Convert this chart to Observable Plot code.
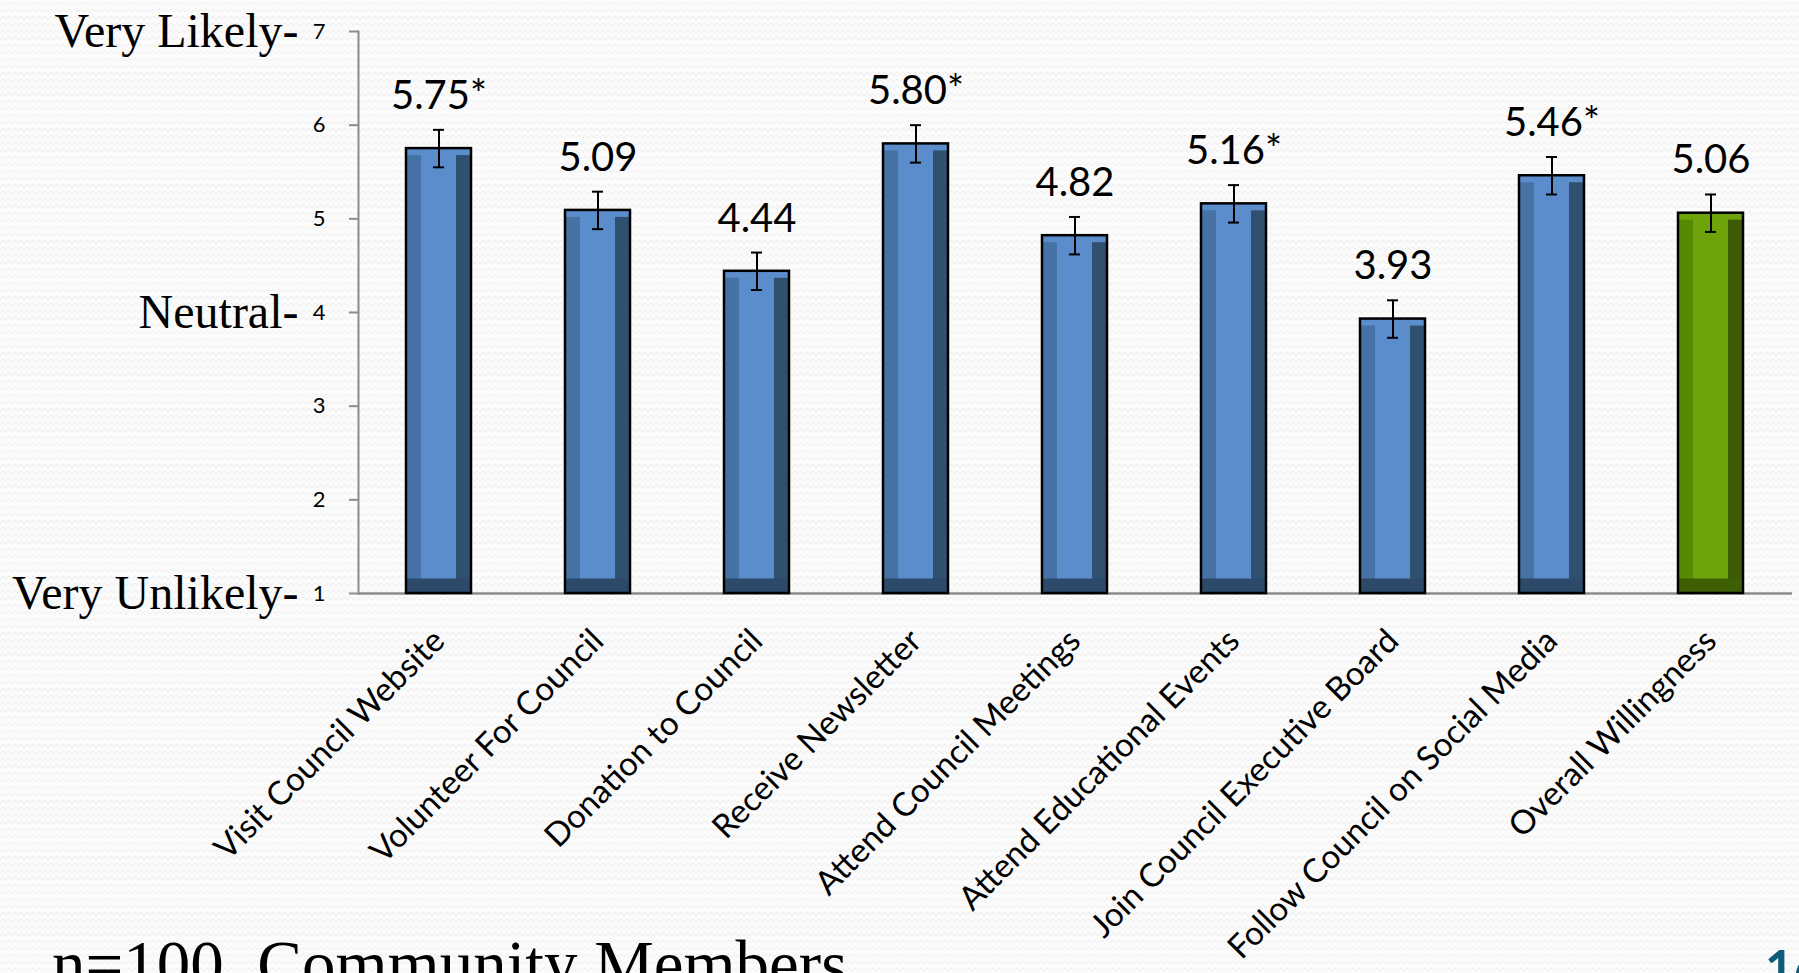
<!DOCTYPE html>
<html>
<head>
<meta charset="utf-8">
<script src="https://cdn.jsdelivr.net/npm/d3@7"></script>
<script src="https://cdn.jsdelivr.net/npm/@observablehq/plot@0.6"></script>
<style>
  html, body { margin: 0; padding: 0; width: 1799px; height: 973px; overflow: hidden; }
  body {
    position: relative;
    background-color: #fbfbfb;
    background-image: url("data:image/svg+xml;utf8,<svg xmlns='http://www.w3.org/2000/svg' width='12' height='7'><path d='M0 5 L3 2 L6 5 L9 2 L12 5' fill='none' stroke='%23eeeeee' stroke-width='1'/></svg>");
  }
  #chart { position: absolute; left: 0; top: 0; }
  #chart g[aria-label="y-axis tick"] { stroke: #8c8c8c; }
  #chart g[aria-label="y-axis tick"] path { stroke: #8c8c8c; stroke-width: 2; }
  #caption {
    position: absolute; left: 52px; top: 931px; margin: 0;
    font-family: "Liberation Serif", serif; font-size: 67px; line-height: 1; color: #000; white-space: nowrap;
  }
  #slide {
    position: absolute; left: 1765px; top: 942px; margin: 0;
    font-family: Lato, sans-serif; font-weight: bold; font-size: 50px; line-height: 1; color: #0f5c78;
  }
</style>
</head>
<body>
<div id="chart"></div>
<div id="caption">n=100, Community Members</div>
<div id="slide">16</div>
<script>
const categories = [
  "Visit Council Website",
  "Volunteer For Council",
  "Donation to Council",
  "Receive Newsletter",
  "Attend Council Meetings",
  "Attend Educational Events",
  "Join Council Executive Board",
  "Follow Council on Social Media",
  "Overall Willingness"
];
const means = [5.75, 5.09, 4.44, 5.80, 4.82, 5.16, 3.93, 5.46, 5.06];
const errors = [0.2, 0.2, 0.2, 0.2, 0.2, 0.2, 0.2, 0.2, 0.2];
const significant = [true, false, false, true, false, true, false, true, false];
const barGroup = ["item", "item", "item", "item", "item", "item", "item", "item", "overall"];
const yTicks = [1, 2, 3, 4, 5, 6, 7];
const anchorValues = [7, 4, 1];
const anchorTexts = ["Very Likely-", "Neutral-", "Very Unlikely-"];

const data = categories.map((c, i) => ({
  category: c, mean: means[i], err: errors[i], sig: significant[i], group: barGroup[i]
}));
const anchors = anchorValues.map((v, i) => ({v, text: anchorTexts[i]}));

const palette = {
  item:    {face: "#5b8ccb", left: "#4672a6", right: "#30506f", bottom: "#2e4a6b"},
  overall: {face: "#6fa30b", left: "#578905", right: "#3c5b02", bottom: "#3f5f04"}
};

const chart = Plot.plot({
  width: 1799,
  height: 973,
  marginLeft: 358,
  marginRight: 7,
  marginTop: 31,
  marginBottom: 380,
  style: {background: "transparent", fontFamily: "Lato, sans-serif", overflow: "visible"},
  x: {domain: categories, paddingInner: 0.59, paddingOuter: 0.295, label: null},
  y: {domain: [1, 7], label: null},
  color: {type: "identity"},
  marks: [
    Plot.axisY({ticks: yTicks, tickSize: 9, tickPadding: 24, fontSize: 22, tickFormat: d => String(d), label: null}),
    Plot.axisX({tickSize: 0, tickPadding: 42, tickRotate: -45, fontSize: 33, label: null}),
    Plot.frame({anchor: "left", stroke: "#8c8c8c", strokeWidth: 2}),
    Plot.ruleY([1], {stroke: "#8c8c8c", strokeWidth: 2.5}),
    Plot.text(anchors, {
      y: "v", text: "text", frameAnchor: "left", textAnchor: "end", dx: -60,
      fontFamily: "Liberation Serif", fontSize: 48, fill: "#000"
    }),
    Plot.barY(data, {x: "category", y1: 1, y2: "mean", fill: d => palette[d.group].face}),
    Plot.barY(data, {x: "category", y1: 1, y2: "mean", fill: d => palette[d.group].left, insetRight: 50, insetTop: 7, insetBottom: 7}),
    Plot.barY(data, {x: "category", y1: 1, y2: "mean", fill: d => palette[d.group].right, insetLeft: 50, insetTop: 7, insetBottom: 7}),
    Plot.tickY(data, {x: "category", y: 1, stroke: d => palette[d.group].bottom, strokeWidth: 15, dy: -7.5}),
    Plot.barY(data, {x: "category", y1: 1, y2: "mean", fill: "none", stroke: "#000", strokeWidth: 2.5}),
    Plot.ruleX(data, {x: "category", y1: d => d.mean - d.err, y2: d => d.mean + d.err, stroke: "#000", strokeWidth: 2}),
    Plot.tickY(data, {x: "category", y: d => d.mean + d.err, insetLeft: 27, insetRight: 27, stroke: "#000", strokeWidth: 2}),
    Plot.tickY(data, {x: "category", y: d => d.mean - d.err, insetLeft: 27, insetRight: 27, stroke: "#000", strokeWidth: 2}),
    Plot.text(data, {
      x: "category", y: d => d.mean + d.err,
      text: d => d.mean.toFixed(2) + (d.sig ? "*" : ""),
      lineAnchor: "bottom", dy: -21, fontSize: 40, fill: "#000"
    })
  ]
});
document.getElementById("chart").appendChild(chart);
</script>
</body>
</html>
